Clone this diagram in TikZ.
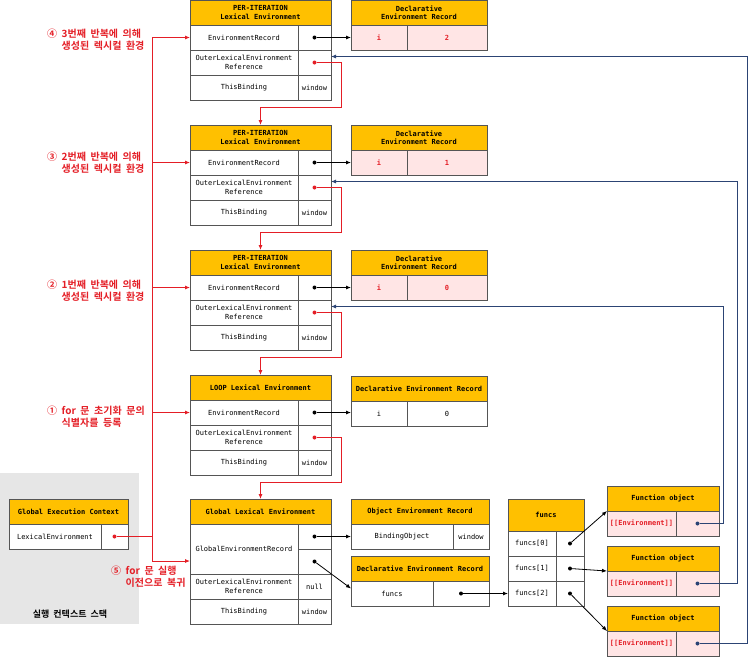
\documentclass[tikz,border=0pt]{standalone}
\usepackage{fontspec}
\setmonofont{DejaVu Sans Mono}
\newfontfamily\kr{Noto Sans CJK KR}[BoldFont={Noto Sans CJK KR Bold}, WordSpace=2]
\usetikzlibrary{arrows.meta}
\definecolor{gold}{RGB}{255,192,0}
\definecolor{boxline}{RGB}{85,85,85}
\definecolor{rowpink}{RGB}{255,229,229}
\definecolor{mred}{RGB}{228,30,38}
\definecolor{navy}{RGB}{44,68,116}
\definecolor{stackgray}{RGB}{230,230,230}

\begin{document}
\begin{tikzpicture}[
    x=1pt, y=-1pt,
    hdr/.style={rectangle, draw=boxline, fill=gold, line width=0.9pt, outer sep=0pt, inner sep=1pt, minimum height=25, anchor=north west, align=center, font=\ttfamily\bfseries\fontsize{7}{8.5}\selectfont},
    cell/.style={rectangle, draw=boxline, fill=white, line width=0.9pt, outer sep=0pt, inner sep=1pt, minimum height=25, anchor=north west, align=center, font=\ttfamily\fontsize{7}{8.5}\selectfont},
    pcell/.style={cell, fill=rowpink, text=mred, font=\ttfamily\bfseries\fontsize{7}{8.5}\selectfont},
    dotB/.style={circle, fill=black, inner sep=0pt, minimum size=4},
    dotR/.style={dotB, fill=mred},
    dotN/.style={dotB, fill=navy},
    blk/.style={-{Latex[length=5pt,width=4pt]}, line width=0.8pt},
    redln/.style={blk, draw=mred},
    navyln/.style={blk, draw=navy},
    lbl/.style={font=\kr\bfseries\fontsize{10}{12}\selectfont, text=mred, align=left, inner sep=0pt, anchor=west}
    ]
    \useasboundingbox (0,0) rectangle (750,657);
    \fill[stackgray] (0,473) rectangle (139,624);

    %Nodes
    \node[font=\kr\bfseries\fontsize{9}{10}\selectfont] (stack) at (70,614) {실행 컨텍스트 스택};

    \node[hdr, minimum width=141] (p3h) at (190,0) {PER-ITERATION\\Lexical Environment};
    \node[cell, minimum width=108] (p3er) at (p3h.south west) {EnvironmentRecord};
    \node[cell, minimum width=33] (p3erv) at (p3er.north east) {};
    \node[cell, minimum width=108] (p3o) at (p3er.south west) {OuterLexicalEnvironment\\Reference};
    \node[cell, minimum width=33] (p3ov) at (p3o.north east) {};
    \node[cell, minimum width=108] (p3t) at (p3o.south west) {ThisBinding};
    \node[cell, minimum width=33] (p3tv) at (p3t.north east) {window};

    \node[hdr, minimum width=141] (p2h) at (190,125) {PER-ITERATION\\Lexical Environment};
    \node[cell, minimum width=108] (p2er) at (p2h.south west) {EnvironmentRecord};
    \node[cell, minimum width=33] (p2erv) at (p2er.north east) {};
    \node[cell, minimum width=108] (p2o) at (p2er.south west) {OuterLexicalEnvironment\\Reference};
    \node[cell, minimum width=33] (p2ov) at (p2o.north east) {};
    \node[cell, minimum width=108] (p2t) at (p2o.south west) {ThisBinding};
    \node[cell, minimum width=33] (p2tv) at (p2t.north east) {window};

    \node[hdr, minimum width=141] (p1h) at (190,250) {PER-ITERATION\\Lexical Environment};
    \node[cell, minimum width=108] (p1er) at (p1h.south west) {EnvironmentRecord};
    \node[cell, minimum width=33] (p1erv) at (p1er.north east) {};
    \node[cell, minimum width=108] (p1o) at (p1er.south west) {OuterLexicalEnvironment\\Reference};
    \node[cell, minimum width=33] (p1ov) at (p1o.north east) {};
    \node[cell, minimum width=108] (p1t) at (p1o.south west) {ThisBinding};
    \node[cell, minimum width=33] (p1tv) at (p1t.north east) {window};

    \node[hdr, minimum width=141] (lh) at (190,375) {LOOP Lexical Environment};
    \node[cell, minimum width=108] (ler) at (lh.south west) {EnvironmentRecord};
    \node[cell, minimum width=33] (lerv) at (ler.north east) {};
    \node[cell, minimum width=108] (lo) at (ler.south west) {OuterLexicalEnvironment\\Reference};
    \node[cell, minimum width=33] (lov) at (lo.north east) {};
    \node[cell, minimum width=108] (lt) at (lo.south west) {ThisBinding};
    \node[cell, minimum width=33] (ltv) at (lt.north east) {window};

    \node[hdr, minimum width=141] (glh) at (190,499) {Global Lexical Environment};
    \node[cell, minimum width=108, minimum height=50] (ger) at (glh.south west) {GlobalEnvironmentRecord};
    \node[cell, minimum width=33] (gerv1) at (ger.north east) {};
    \node[cell, minimum width=33] (gerv2) at (gerv1.south west) {};
    \node[cell, minimum width=108] (glo) at (ger.south west) {OuterLexicalEnvironment\\Reference};
    \node[cell, minimum width=33] (glov) at (glo.north east) {null};
    \node[cell, minimum width=108] (glt) at (glo.south west) {ThisBinding};
    \node[cell, minimum width=33] (gltv) at (glt.north east) {window};

    \node[hdr, minimum width=136] (d3h) at (351,0) {Declarative\\Environment Record};
    \node[pcell, minimum width=56] (d3i) at (d3h.south west) {i};
    \node[pcell, minimum width=80] (d3v) at (d3i.north east) {2};
    \node[hdr, minimum width=136] (d2h) at (351,125) {Declarative\\Environment Record};
    \node[pcell, minimum width=56] (d2i) at (d2h.south west) {i};
    \node[pcell, minimum width=80] (d2v) at (d2i.north east) {1};
    \node[hdr, minimum width=136] (d1h) at (351,250) {Declarative\\Environment Record};
    \node[pcell, minimum width=56] (d1i) at (d1h.south west) {i};
    \node[pcell, minimum width=80] (d1v) at (d1i.north east) {0};
    \node[hdr, minimum width=136] (dlh) at (351,376) {Declarative Environment Record};
    \node[cell, minimum width=56] (dli) at (dlh.south west) {i};
    \node[cell, minimum width=80] (dlv) at (dli.north east) {0};

    \node[hdr, minimum width=138] (oeh) at (351,499) {Object Environment Record};
    \node[cell, minimum width=102] (oeb) at (oeh.south west) {BindingObject};
    \node[cell, minimum width=36] (oebv) at (oeb.north east) {window};
    \node[hdr, minimum width=138] (deh) at (351,556) {Declarative Environment Record};
    \node[cell, minimum width=82] (def) at (deh.south west) {funcs};
    \node[cell, minimum width=56] (defv) at (def.north east) {};

    \node[hdr, minimum width=119] (gech) at (9,499) {Global Execution Context};
    \node[cell, minimum width=92] (gecl) at (gech.south west) {LexicalEnvironment};
    \node[cell, minimum width=27] (gecv) at (gecl.north east) {};

    \node[hdr, minimum width=76, minimum height=32] (fh) at (508,499) {funcs};
    \node[cell, minimum width=48] (f0) at (fh.south west) {funcs[0]};
    \node[cell, minimum width=28] (f0v) at (f0.north east) {};
    \node[cell, minimum width=48] (f1) at (f0.south west) {funcs[1]};
    \node[cell, minimum width=28] (f1v) at (f1.north east) {};
    \node[cell, minimum width=48] (f2) at (f1.south west) {funcs[2]};
    \node[cell, minimum width=28] (f2v) at (f2.north east) {};

    \node[hdr, minimum width=112] (fo1h) at (607,486) {Function object};
    \node[pcell, minimum width=69] (fo1e) at (fo1h.south west) {[[Environment]]};
    \node[pcell, minimum width=43] (fo1v) at (fo1e.north east) {};
    \node[hdr, minimum width=112] (fo2h) at (607,546) {Function object};
    \node[pcell, minimum width=69] (fo2e) at (fo2h.south west) {[[Environment]]};
    \node[pcell, minimum width=43] (fo2v) at (fo2e.north east) {};
    \node[hdr, minimum width=112] (fo3h) at (607,606) {Function object};
    \node[pcell, minimum width=69] (fo3e) at (fo3h.south west) {[[Environment]]};
    \node[pcell, minimum width=43] (fo3v) at (fo3e.north east) {};

    %Dots
    \node[dotB] (p3d) at (p3erv) {};
    \node[dotR] (p3od) at (p3ov) {};
    \node[dotB] (p2d) at (p2erv) {};
    \node[dotR] (p2od) at (p2ov) {};
    \node[dotB] (p1d) at (p1erv) {};
    \node[dotR] (p1od) at (p1ov) {};
    \node[dotB] (ld) at (lerv) {};
    \node[dotR] (lod) at (lov) {};
    \node[dotB] (gd1) at (gerv1) {};
    \node[dotB] (gd2) at (gerv2) {};
    \node[dotR] (gecd) at (gecv) {};
    \node[dotB] (defd) at (defv) {};
    \node[dotB] (f0d) at (f0v) {};
    \node[dotB] (f1d) at (f1v) {};
    \node[dotB] (f2d) at (f2v) {};
    \node[dotN] (fo1d) at (fo1v) {};
    \node[dotN] (fo2d) at (fo2v) {};
    \node[dotN] (fo3d) at (fo3v) {};

    %Labels
    \node[lbl] (lab4) at (47,40) {④ 3번째 반복에 의해\\\hphantom{④ }생성된 렉시컬 환경};
    \node[lbl] (lab3) at (47,163) {③ 2번째 반복에 의해\\\hphantom{③ }생성된 렉시컬 환경};
    \node[lbl] (lab2) at (47,291) {② 1번째 반복에 의해\\\hphantom{② }생성된 렉시컬 환경};
    \node[lbl] (lab1) at (47,417) {① for 문 초기화 문의\\\hphantom{① }식별자를 등록};
    \node[lbl] (lab5) at (111,577) {⑤ for 문 실행\\\hphantom{⑤ }이전으로 복귀};

    %Lines
    \draw[blk] (p3d) -- (d3i.west);
    \draw[blk] (p2d) -- (d2i.west);
    \draw[blk] (p1d) -- (d1i.west);
    \draw[blk] (ld) -- (ld -| dli.west);
    \draw[blk] (gd1) -- (oeb.west);
    \draw[blk] (gd2) -- ([yshift=5pt]def.west);
    \draw[blk] (defd) -- (f2.west);
    \draw[blk] (f0d) -- (fo1e.north west);
    \draw[blk] (f1d) -- (fo2e.north west);
    \draw[blk] (f2d) -- (fo3e.north west);

    \draw[redln] (p3od) -- ++(27,0) -- ++(0,45) -| (p2h.north);
    \draw[redln] (p2od) -- ++(27,0) -- ++(0,45) -| (p1h.north);
    \draw[redln] (p1od) -- ++(27,0) -- ++(0,45) -| (lh.north);
    \draw[redln] (lod) -- ++(27,0) -- ++(0,45) -| (glh.north);

    \draw[redln, -] (gecd) -- ++(38,0) coordinate (bus);
    \draw[redln] (bus) |- (p3er.west);
    \draw[redln] (bus) |- (p2er.west);
    \draw[redln] (bus) |- (p1er.west);
    \draw[redln] (bus) |- (ler.west);
    \draw[redln] (bus) |- ([yshift=-12pt]ger.west);

    \draw[navyln] (fo1d) -- ++(26,0) |- ([yshift=6pt]p1ov.east);
    \draw[navyln] (fo2d) -- ++(40,0) |- ([yshift=6pt]p2ov.east);
    \draw[navyln] (fo3d) -- ++(50,0) |- ([yshift=6pt]p3ov.east);
\end{tikzpicture}
\end{document}
